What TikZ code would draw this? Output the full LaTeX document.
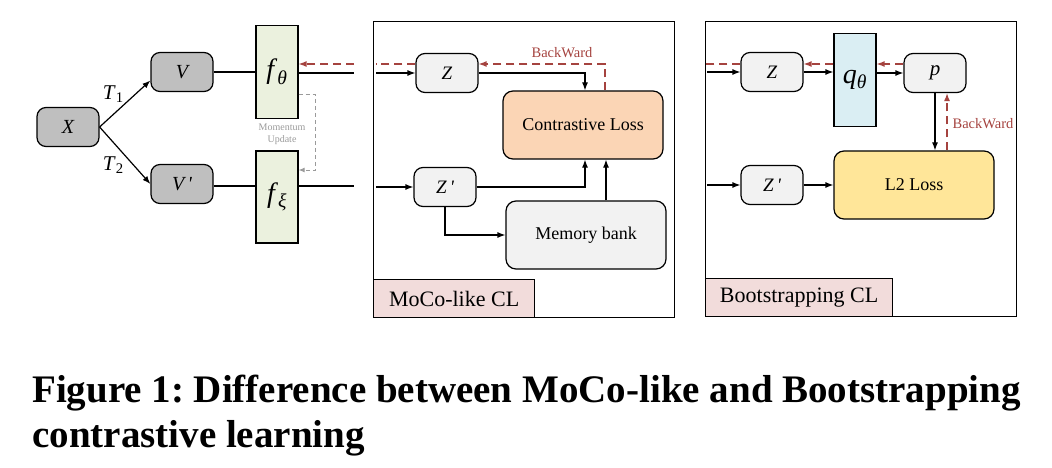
\documentclass[tikz,border=0pt]{standalone}
\usepackage{fontspec}
\setmainfont{Liberation Serif}
\usepackage{tikz}
\usetikzlibrary{positioning}
\usetikzlibrary{arrows.meta}
\usetikzlibrary{calc}

\definecolor{viewgray}{HTML}{BFBFBF}
\definecolor{embgray}{HTML}{F2F2F2}
\definecolor{encgreen}{HTML}{EBF1DE}
\definecolor{predblue}{HTML}{DAEEF3}
\definecolor{losspeach}{HTML}{FBD5B5}
\definecolor{lossyellow}{HTML}{FFE699}
\definecolor{tagpink}{HTML}{F2DCDB}
\definecolor{backred}{HTML}{A5433F}
\definecolor{momgray}{HTML}{9A9A9A}

\tikzset{
    view/.style={draw, line width=1.2pt, rounded corners=9pt, fill=viewgray,
        minimum width=62pt, minimum height=39pt, font=\fontsize{20}{22}\selectfont\itshape},
    emb/.style={view, fill=embgray, font=\fontsize{19}{22}\selectfont\itshape},
    enc/.style={draw, line width=1.2pt, fill=encgreen, minimum width=42pt,
        minimum height=93pt, font=\fontsize{28}{30}\selectfont},
    loss/.style={draw, line width=1.2pt, rounded corners=10pt, minimum width=160pt,
        minimum height=68pt, font=\fontsize{18}{20}\selectfont},
    panel/.style={draw, line width=1.2pt},
    tag/.style={draw, line width=1.2pt, fill=tagpink, anchor=south west,
        minimum height=38pt, font=\fontsize{22}{24}\selectfont},
    arr/.style={line width=1.2pt, -{Latex[length=8pt,width=6pt]}},
    link/.style={line width=1.2pt},
    back/.style={line width=1.3pt, backred, dash pattern=on 8pt off 5pt},
    backarr/.style={back, -{Latex[length=8pt,width=6pt]}},
    mom/.style={line width=1pt, momgray, dash pattern=on 4pt off 3pt,
        -{Latex[length=6pt,width=5pt]}},
    bwtext/.style={text=backred, font=\fontsize{14.5}{16}\selectfont, inner sep=0pt},
}

\begin{document}
\frenchspacing
\begin{tikzpicture}[x=1pt, y=-1pt]
    \useasboundingbox (0,0) rectangle (1052,468);

    % views and encoders
    \node[view] (x) at (68,127) {X};
    \node[view] (v1) at (182,72) {V};
    \node[view] (v2) at (182,184) {V\,\textquotesingle};
    \node[enc] (fth) at (277,72) {\textit{f}\textsubscript{\textit{θ}}};
    \node[enc, minimum height=92pt] (fxi) at (277,197) {\textit{f}\textsubscript{\textit{ξ}}};

    \draw[arr] (x.east) -- (v1.195)
        node[midway, above left=1pt, inner sep=0pt, font=\fontsize{21}{22}\selectfont] (t1) {\textit{T}\textsubscript{1}};
    \draw[arr] (x.east) -- (v2.west)
        node[midway, below left=1pt, inner sep=0pt, font=\fontsize{21}{22}\selectfont] (t2) {\textit{T}\textsubscript{2}};
    \draw[link] (v1.east) -- (v1.east -| fth.west);
    \draw[link] ([yshift=-2pt]v2.east) -- ([yshift=-2pt]v2.east -| fxi.west);

    \coordinate (fthout) at (354,73);
    \coordinate (fxiout) at (354,186);
    \coordinate (fthback) at (354,64);
    \draw[link] (fth.east |- fthout) -- (fthout);
    \draw[link] (fxi.east |- fxiout) -- (fxiout);
    \draw[backarr] (fthback) -- (fthback -| fth.east);

    \draw[mom] ([yshift=-23pt]fth.east) -- ++(17,0) |- ([yshift=27pt]fxi.east);
    \node[text=momgray, align=center, font=\fontsize{10}{12}\selectfont] (momtext) at (282,134) {Momentum\\Update};

    % MoCo-like CL
    \node[panel, minimum width=301pt, minimum height=296pt, anchor=north west] (moco) at (373,21) {};
    \node[tag, minimum width=161pt] (mocotag) at (moco.south west) {MoCo-like CL};
    \node[emb] (z1) at (447,73) {Z};
    \node[emb] (z1p) at (445,187) {Z\,\textquotesingle};
    \node[loss, fill=losspeach] (closs) at (583,125) {Contrastive Loss};
    \node[loss, fill=embgray] (mbank) at (586,235) {Memory bank};

    \coordinate (mocoin1) at (376,73);
    \coordinate (mocoin2) at (376,187);
    \coordinate (mocoback) at (376,64);
    \draw[arr] (mocoin1) -- (z1.west);
    \draw[arr] (mocoin2) -- (z1p.west);
    \draw[back] ([yshift=9pt]z1.west) -- (mocoback);
    \draw[arr] (z1.east) -| ([xshift=2pt]closs.north);
    \draw[arr] (z1p.east) -| ([xshift=2pt]closs.south);
    \draw[arr] (z1p.south) |- (mbank.west);
    \draw[arr] ([xshift=20pt]mbank.north) -- ([xshift=20pt]mbank.north |- closs.south);
    \draw[backarr] ([xshift=22pt]closs.north) |- ([yshift=9pt]z1.east);
    \node[bwtext] (bw1) at (562,53) {BackWard};

    % Bootstrapping CL
    \node[panel, minimum width=311pt, minimum height=295pt, anchor=north west] (boot) at (705,21) {};
    \node[tag, minimum width=187pt] (boottag) at (boot.south west) {Bootstrapping CL};
    \node[emb] (z2) at (772,72) {Z};
    \node[enc, fill=predblue] (q) at (855,80) {\textit{q}\textsubscript{\textit{θ}}};
    \node[emb, font=\fontsize{21}{22}\selectfont\itshape] (p) at (935,73) {p};
    \node[emb] (z2p) at (772,185) {Z\,\textquotesingle};
    \node[loss, fill=lossyellow] (l2) at (914,185) {L2 Loss};

    \coordinate (bootin1) at (707,72);
    \coordinate (bootin2) at (707,185);
    \coordinate (bootback) at (706,64);
    \draw[arr] (bootin1) -- (z2.west);
    \draw[arr] (bootin2) -- (z2p.west);
    \draw[arr] (z2.east) -- (z2.east -| q.west);
    \draw[arr] (q.east |- p.west) -- (p.west);
    \draw[back] ([yshift=8pt]z2.west) -- (bootback);
    \draw[backarr] ([yshift=8pt]z2.east -| q.west) -- ([yshift=8pt]z2.east);
    \draw[backarr] ([yshift=9pt]p.west) -- ([yshift=9pt]p.west -| q.east);
    \draw[arr] (p.south) -- (p.south |- l2.north);
    \draw[backarr] ([xshift=12pt]p.south |- l2.north) -- ([xshift=12pt]p.south);
    \node[bwtext] (bw2) at (983,124) {BackWard};
    \draw[arr] (z2p.east) -- (l2.west);

    % caption
    \node[anchor=base west, inner sep=0pt, font=\fontsize{39}{44}\selectfont\bfseries] (cap1) at (32,402)
        {Figure 1: Difference between MoCo-like and Bootstrapping};
    \node[anchor=base west, inner sep=0pt, font=\fontsize{39}{44}\selectfont\bfseries] (cap2) at (32,447)
        {contrastive learning};
\end{tikzpicture}
\end{document}
